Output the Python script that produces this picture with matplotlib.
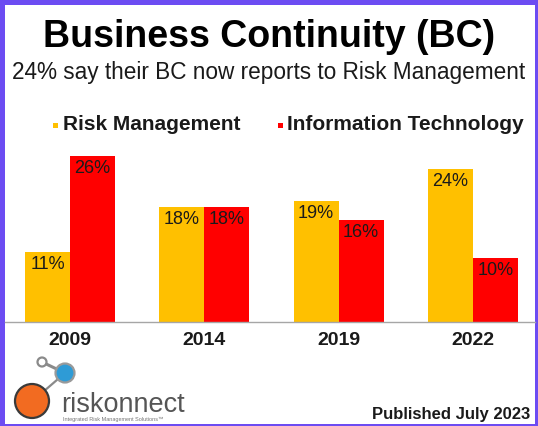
import matplotlib
matplotlib.use("Agg")
import matplotlib.pyplot as plt
from matplotlib.patches import Rectangle, Circle
from matplotlib.lines import Line2D
import numpy as np

plt.rcParams['font.family'] = ['Liberation Sans', 'DejaVu Sans']

years = ["2009", "2014", "2019", "2022"]
risk_mgmt = [11, 18, 19, 24]
info_tech = [26, 18, 16, 10]
series_names = ["Risk Management", "Information Technology"]
title = "Business Continuity (BC)"
subtitle = "24% say their BC now reports to Risk Management"
footer = "Published July 2023"

YELLOW = "#FFC000"
RED = "#FF0000"
PURPLE = "#6C4CF2"

W, H = 538, 426
fig = plt.figure(figsize=(W / 100, H / 100), dpi=100)
fig.patch.set_facecolor(PURPLE)

def fx(px):
    return px / W

def fy(py):
    return 1 - py / H

# white inner panel (frame border)
fig.patches.append(Rectangle((fx(5), fy(424)), fx(535) - fx(5), fy(5) - fy(424),
                             transform=fig.transFigure, facecolor="white",
                             edgecolor="none", zorder=-5))

# main bar axes
ax_left, ax_right = 5, 535
ax_top, ax_bottom = 140, 322
ax = fig.add_axes([fx(ax_left), fy(ax_bottom), fx(ax_right) - fx(ax_left),
                   fy(ax_top) - fy(ax_bottom)])
ax.set_facecolor("none")
x = np.arange(len(years))
bw = 0.335
b1 = ax.bar(x - bw / 2, risk_mgmt, bw, color=YELLOW, zorder=2)
b2 = ax.bar(x + bw / 2, info_tech, bw, color=RED, zorder=2)
for bars, vals in ((b1, risk_mgmt), (b2, info_tech)):
    for rect, v in zip(bars, vals):
        ax.annotate(f"{v}%", (rect.get_x() + rect.get_width() / 2, v),
                    xytext=(0, -3), textcoords="offset points",
                    ha="center", va="top", fontsize=13, color="#1a1a1a", zorder=3)
ax.set_xlim(-0.484, 3.462)
ax.set_ylim(0, 182 / 6.38)
for s in ("left", "right", "top"):
    ax.spines[s].set_visible(False)
ax.spines["bottom"].set_color("#A6A6A6")
ax.spines["bottom"].set_linewidth(1.0)
ax.set_yticks([])
ax.set_xticks(x)
ax.set_xticklabels(years, fontsize=14, fontweight="bold", color="#1a1a1a")
ax.tick_params(axis="x", length=0, pad=7)

# titles
fig.text(0.5, fy(37), title, ha="center", va="center", fontsize=27,
         fontweight="bold", color="black")
fig.text(0.5, fy(73), subtitle, ha="center", va="center", fontsize=16.3,
         color="#1a1a1a")

# legend
for sq_x, txt_x, col, name in ((53, 63, YELLOW, series_names[0]),
                               (278, 287, RED, series_names[1])):
    fig.patches.append(Rectangle((fx(sq_x), fy(127.5)), fx(5), 5 / H,
                                 transform=fig.transFigure, facecolor=col,
                                 edgecolor="none"))
    fig.text(fx(txt_x), fy(124.5), name, ha="left", va="center", fontsize=15,
             fontweight="bold", color="#1a1a1a")

# footer
fig.text(fx(530), fy(415), footer, ha="right", va="center", fontsize=12,
         fontweight="bold", color="#1a1a1a")

# logo overlay in pixel coordinates
lg = fig.add_axes([0, 0, 1, 1])
lg.set_xlim(0, W)
lg.set_ylim(H, 0)
lg.axis("off")
lg.set_facecolor("none")
lg.add_line(Line2D([42, 65], [362, 373], color="#8a8a8a", lw=2.2, zorder=1))
lg.add_line(Line2D([65, 36], [373, 398], color="#8a8a8a", lw=1.6, zorder=1))
lg.add_patch(Circle((32, 401), 17, facecolor="#F26B21", edgecolor="#3a3a3a", lw=1.6, zorder=2))
lg.add_patch(Circle((65, 373), 9.5, facecolor="#2E9BD6", edgecolor="#9a9a9a", lw=1.6, zorder=2))
lg.add_patch(Circle((42, 362), 4.5, facecolor="white", edgecolor="#8a8a8a", lw=1.6, zorder=2))
lg.text(61, 412, "riskonnect", ha="left", va="baseline", fontsize=19.5,
        color="#555555", fontweight="light")
lg.text(63, 419, "Integrated Risk Management Solutions\u2122", ha="left", va="center",
        fontsize=4, color="#777777")

fig.savefig("out.png", dpi=100, facecolor=fig.get_facecolor())
